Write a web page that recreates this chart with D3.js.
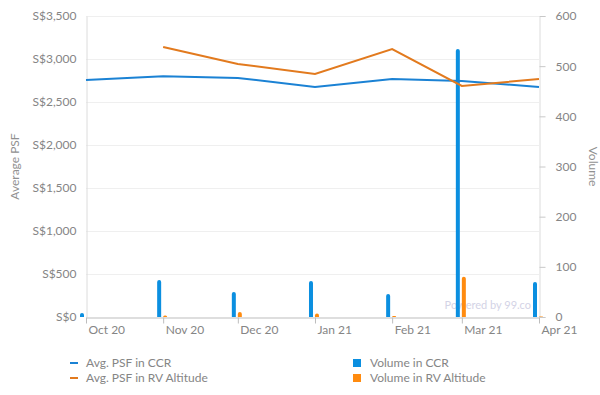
<!DOCTYPE html>
<html>
<head>
<meta charset="utf-8">
<script src="https://cdn.jsdelivr.net/npm/d3@7"></script>
<style>
  body { margin: 0; background: #fff; }
  svg { font-family: Lato, "Open Sans", sans-serif; }
</style>
</head>
<body>
<script>
  var w = 600, h = 395;
  var margin = { top: 16, right: 61, bottom: 78, left: 86 };

  // data (one point per month start)
  var months = ["2020-10-01", "2020-11-01", "2020-12-01", "2021-01-01", "2021-02-01", "2021-03-01", "2021-04-01"];
  var psfCCR = [2756, 2800, 2780, 2674, 2767, 2744, 2674];
  var psfRV = [null, 3140, 2942, 2826, 3116, 2686, 2767];
  var volCCR = [8, 74, 50, 72, 46, 534, 70];
  var volRV = [0, 3, 10, 7, 2, 80, 1];
  var psfTicks = [0, 500, 1000, 1500, 2000, 2500, 3000, 3500];
  var volTicks = [0, 100, 200, 300, 400, 500, 600];
  var seriesNames = ["Avg. PSF in CCR", "Avg. PSF in RV Altitude", "Volume in CCR", "Volume in RV Altitude"];

  var blueLine = "#1b82d4", orangeLine = "#e27a1e";
  var blueBar = "#0b8fe0", orangeBar = "#ff8b0f";
  var textCol = "#858585";

  var parse = d3.timeParse("%Y-%m-%d");
  var dates = months.map(parse);

  var svg = d3.select("body").append("svg")
    .attr("width", w)
    .attr("height", h);

  var x = d3.scaleTime()
    .domain([dates[0], dates[dates.length - 1]])
    .range([margin.left, w - margin.right]);

  var yL = d3.scaleLinear()
    .domain([0, 3500])
    .range([h - margin.bottom, margin.top]);

  var yR = d3.scaleLinear()
    .domain([0, 600])
    .range([h - margin.bottom, margin.top]);

  // grid
  svg.append("g")
    .selectAll("line")
    .data(psfTicks.slice(1))
    .enter().append("line")
    .attr("x1", margin.left).attr("x2", w - margin.right)
    .attr("y1", function (d) { return yL(d) + 0.5; })
    .attr("y2", function (d) { return yL(d) + 0.5; })
    .attr("stroke", "#efefef");

  // left axis
  var fmt = function (d) { return "S$" + d3.format(",")(d); };
  svg.append("g")
    .attr("transform", "translate(" + (margin.left + 0.5) + ",0)")
    .call(d3.axisLeft(yL).tickValues(psfTicks).tickFormat(fmt).tickSize(0).tickPadding(10))
    .call(function (g) {
      g.select(".domain").attr("stroke", "#dcdcdc");
      g.selectAll("text").attr("fill", textCol).style("font-size", "12px").style("font-family", "Lato, sans-serif");
    });

  // right axis
  svg.append("g")
    .attr("transform", "translate(" + (w - margin.right + 0.5) + ",0)")
    .call(d3.axisRight(yR).tickValues(volTicks).tickSize(6).tickPadding(10))
    .call(function (g) {
      g.select(".domain").attr("stroke", "#dcdcdc");
      g.selectAll(".tick line").attr("stroke", "#c8c8c8");
      g.selectAll("text").attr("fill", textCol).style("font-size", "12px").style("font-family", "Lato, sans-serif");
    });

  // x axis
  svg.append("g")
    .attr("transform", "translate(0," + (h - margin.bottom + 0.5) + ")")
    .call(d3.axisBottom(x).tickValues(dates).tickFormat(d3.timeFormat("%b %y")).tickSize(6).tickSizeOuter(0))
    .call(function (g) {
      g.select(".domain").attr("stroke", "#bdbdbd");
      g.selectAll(".tick line").attr("stroke", "#bdbdbd");
      g.selectAll("text")
        .attr("fill", textCol)
        .attr("text-anchor", "start")
        .attr("x", 2)
        .attr("y", 8)
        .style("font-size", "12px")
        .style("font-family", "Lato, sans-serif");
    });

  // axis titles
  svg.append("text")
    .attr("transform", "translate(19," + ((margin.top + h - margin.bottom) / 2) + ") rotate(-90)")
    .attr("text-anchor", "middle")
    .attr("fill", "#909090")
    .style("font-size", "12px")
    .text("Average PSF");

  svg.append("text")
    .attr("transform", "translate(589," + ((margin.top + h - margin.bottom) / 2) + ") rotate(90)")
    .attr("text-anchor", "middle")
    .attr("fill", "#909090")
    .style("font-size", "12px")
    .text("Volume");

  // watermark
  svg.append("text")
    .attr("x", 531).attr("y", 309)
    .attr("text-anchor", "end")
    .attr("fill", "#d3d3e6")
    .style("font-size", "11px")
    .text("Powered by 99.co");

  // bars
  var barW = 4;
  function roundTop(x0, y0, wd, ht) {
    var r = Math.min(2, ht, wd / 2);
    var yb = y0 + ht;
    return "M" + x0 + "," + yb + "V" + (y0 + r) +
      "Q" + x0 + "," + y0 + " " + (x0 + r) + "," + y0 +
      "H" + (x0 + wd - r) +
      "Q" + (x0 + wd) + "," + y0 + " " + (x0 + wd) + "," + (y0 + r) +
      "V" + yb + "Z";
  }

  svg.append("g").selectAll("path")
    .data(volCCR)
    .enter().append("path")
    .attr("d", function (d, i) {
      var y0 = yR(d);
      return roundTop(x(dates[i]) - 6, y0, barW, yR(0) - y0);
    })
    .attr("fill", blueBar);

  svg.append("g").selectAll("path")
    .data(volRV)
    .enter().append("path")
    .attr("d", function (d, i) {
      if (d <= 0) return null;
      var y0 = yR(d);
      return roundTop(x(dates[i]), y0, barW, yR(0) - y0);
    })
    .attr("fill", orangeBar);

  // lines
  var lineCCR = d3.line()
    .x(function (d, i) { return x(dates[i]); })
    .y(function (d) { return yL(d); });

  svg.append("path")
    .datum(psfCCR)
    .attr("d", lineCCR)
    .attr("fill", "none")
    .attr("stroke", blueLine)
    .attr("stroke-width", 2);

  var lineRV = d3.line()
    .defined(function (d) { return d != null; })
    .x(function (d, i) { return x(dates[i]); })
    .y(function (d) { return yL(d); });

  svg.append("path")
    .datum(psfRV)
    .attr("d", lineRV)
    .attr("fill", "none")
    .attr("stroke", orangeLine)
    .attr("stroke-width", 2);

  // legend
  var legend = svg.append("g");
  var legendItems = [
    { name: seriesNames[0], color: blueLine, kind: "line", x: 70, y: 363 },
    { name: seriesNames[1], color: orangeLine, kind: "line", x: 70, y: 378 },
    { name: seriesNames[2], color: blueBar, kind: "box", x: 353, y: 363 },
    { name: seriesNames[3], color: orangeBar, kind: "box", x: 353, y: 378 }
  ];
  legendItems.forEach(function (d) {
    if (d.kind == "line") {
      legend.append("line")
        .attr("x1", d.x).attr("x2", d.x + 8)
        .attr("y1", d.y).attr("y2", d.y)
        .attr("stroke", d.color).attr("stroke-width", 2);
      legend.append("text")
        .attr("x", d.x + 16).attr("y", d.y + 4)
        .attr("fill", textCol).style("font-size", "12px")
        .text(d.name);
    } else {
      legend.append("rect")
        .attr("x", d.x).attr("y", d.y - 4)
        .attr("width", 8).attr("height", 8)
        .attr("fill", d.color);
      legend.append("text")
        .attr("x", d.x + 17).attr("y", d.y + 4)
        .attr("fill", textCol).style("font-size", "12px")
        .text(d.name);
    }
  });
</script>
</body>
</html>
